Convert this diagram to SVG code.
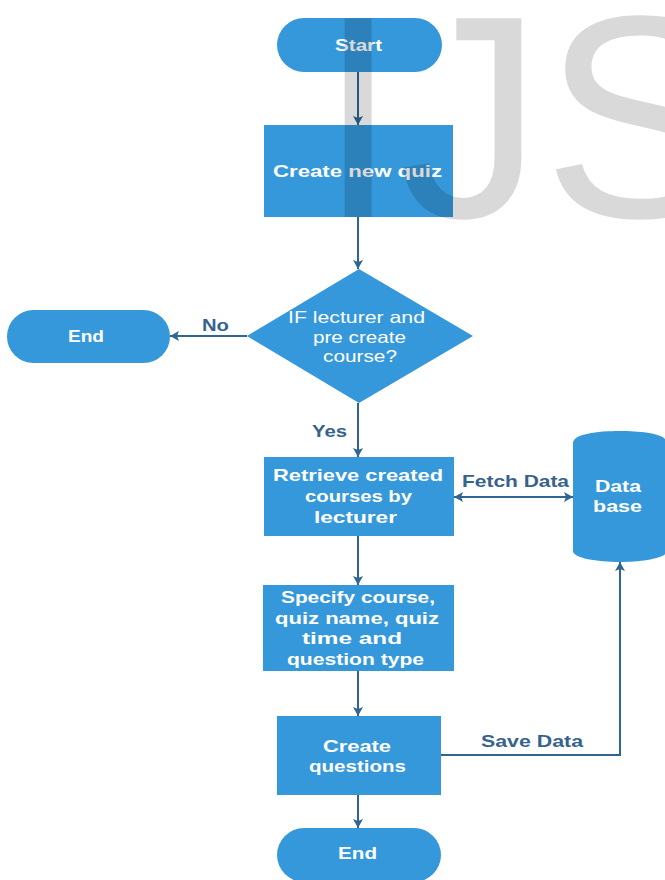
<svg xmlns="http://www.w3.org/2000/svg" width="665" height="880" viewBox="0 0 665 880">
<style>
.n{fill:#3498db;}
.t{font-family:"Liberation Sans",Arial,sans-serif;font-weight:bold;font-size:17px;fill:#ffffff;text-anchor:middle;}
.tn{font-family:"Liberation Sans",Arial,sans-serif;font-weight:normal;font-size:16.5px;fill:#ffffff;text-anchor:middle;}
.lb{font-family:"Liberation Sans",Arial,sans-serif;font-weight:bold;font-size:17px;fill:#36638e;text-anchor:middle;}
.c{fill:none;stroke:#2f6493;stroke-width:2;}
.wm{font-family:"Liberation Sans",Arial,sans-serif;font-size:289px;fill:#000;fill-opacity:0.15;}
</style>
<defs>
<marker id="ah" viewBox="0 0 9 10" markerUnits="userSpaceOnUse" markerWidth="9" markerHeight="10" refX="9" refY="5" orient="auto-start-reverse">
<path d="M0,0 L9,5 L0,10 L2,5 z" fill="#2f6493"/>
</marker>
</defs>
<rect width="665" height="880" fill="#ffffff"/>

<g id="connectors">
<line class="c" x1="358" y1="72" x2="358" y2="125" marker-end="url(#ah)"/>
<line class="c" x1="358" y1="217" x2="358" y2="269" marker-end="url(#ah)"/>
<line class="c" x1="247" y1="336" x2="170" y2="336" marker-end="url(#ah)"/>
<line class="c" x1="358" y1="403" x2="358" y2="457" marker-end="url(#ah)"/>
<line class="c" x1="454" y1="497" x2="573" y2="497" marker-start="url(#ah)" marker-end="url(#ah)"/>
<line class="c" x1="358" y1="536" x2="358" y2="585" marker-end="url(#ah)"/>
<line class="c" x1="358" y1="671" x2="358" y2="716" marker-end="url(#ah)"/>
<line class="c" x1="358" y1="795" x2="358" y2="828" marker-end="url(#ah)"/>
<polyline class="c" points="441,755 620,755 620,562" marker-end="url(#ah)"/>
<text class="lb" x="215.5" y="331" textLength="27" lengthAdjust="spacingAndGlyphs">No</text>
<text class="lb" x="329.5" y="437" textLength="35" lengthAdjust="spacingAndGlyphs">Yes</text>
<text class="lb" x="515.5" y="487" textLength="107" lengthAdjust="spacingAndGlyphs">Fetch Data</text>
<text class="lb" x="532" y="747" textLength="102" lengthAdjust="spacingAndGlyphs">Save Data</text>
</g>

<g id="start">
<rect class="n" x="277" y="18" width="165" height="54" rx="27"/>
<text class="t" x="358.5" y="51" textLength="47" lengthAdjust="spacingAndGlyphs">Start</text>
</g>

<g id="create-quiz">
<rect class="n" x="264" y="125" width="189" height="92"/>
<text class="t" x="357.5" y="177" textLength="169" lengthAdjust="spacingAndGlyphs">Create new quiz</text>
</g>

<g id="decision">
<polygon class="n" points="359,269 473,336 359,403 247,336"/>
<text class="tn" x="356.5" y="323" textLength="137" lengthAdjust="spacingAndGlyphs">IF lecturer and</text>
<text class="tn" x="359.5" y="343" textLength="93" lengthAdjust="spacingAndGlyphs">pre create</text>
<text class="tn" x="360" y="362" textLength="74" lengthAdjust="spacingAndGlyphs">course?</text>
</g>

<g id="end-no">
<rect class="n" x="7" y="310" width="163" height="53" rx="26.5"/>
<text class="t" x="86" y="342" textLength="36" lengthAdjust="spacingAndGlyphs">End</text>
</g>

<g id="retrieve">
<rect class="n" x="264" y="457" width="190" height="79"/>
<text class="t" x="358" y="481" textLength="170" lengthAdjust="spacingAndGlyphs">Retrieve created</text>
<text class="t" x="358.5" y="502" textLength="107" lengthAdjust="spacingAndGlyphs">courses by</text>
<text class="t" x="355.5" y="523" textLength="83" lengthAdjust="spacingAndGlyphs">lecturer</text>
</g>

<g id="database">
<path class="n" d="M573,443 C573,434 597,431 620,431 C643,431 667,434 667,443 L667,551 C667,558 643,562 620,562 C597,562 573,558 573,551 Z"/>
<text class="t" x="618" y="492" textLength="46" lengthAdjust="spacingAndGlyphs">Data</text>
<text class="t" x="617.5" y="512" textLength="49" lengthAdjust="spacingAndGlyphs">base</text>
</g>

<g id="specify">
<rect class="n" x="263" y="585" width="191" height="86"/>
<text class="t" x="358" y="603" textLength="154" lengthAdjust="spacingAndGlyphs">Specify course,</text>
<text class="t" x="357" y="624" textLength="164" lengthAdjust="spacingAndGlyphs">quiz name, quiz</text>
<text class="t" x="352" y="644" textLength="100" lengthAdjust="spacingAndGlyphs">time and</text>
<text class="t" x="355.5" y="665" textLength="137" lengthAdjust="spacingAndGlyphs">question type</text>
</g>

<g id="create-questions">
<rect class="n" x="277" y="716" width="164" height="79"/>
<text class="t" x="357" y="752" textLength="68" lengthAdjust="spacingAndGlyphs">Create</text>
<text class="t" x="357.5" y="772" textLength="97" lengthAdjust="spacingAndGlyphs">questions</text>
</g>

<g id="end">
<rect class="n" x="277" y="828" width="164" height="54" rx="27"/>
<text class="t" x="357.5" y="859" textLength="39" lengthAdjust="spacingAndGlyphs">End</text>
</g>

<text class="wm" x="318" y="217">IJS</text>
</svg>
